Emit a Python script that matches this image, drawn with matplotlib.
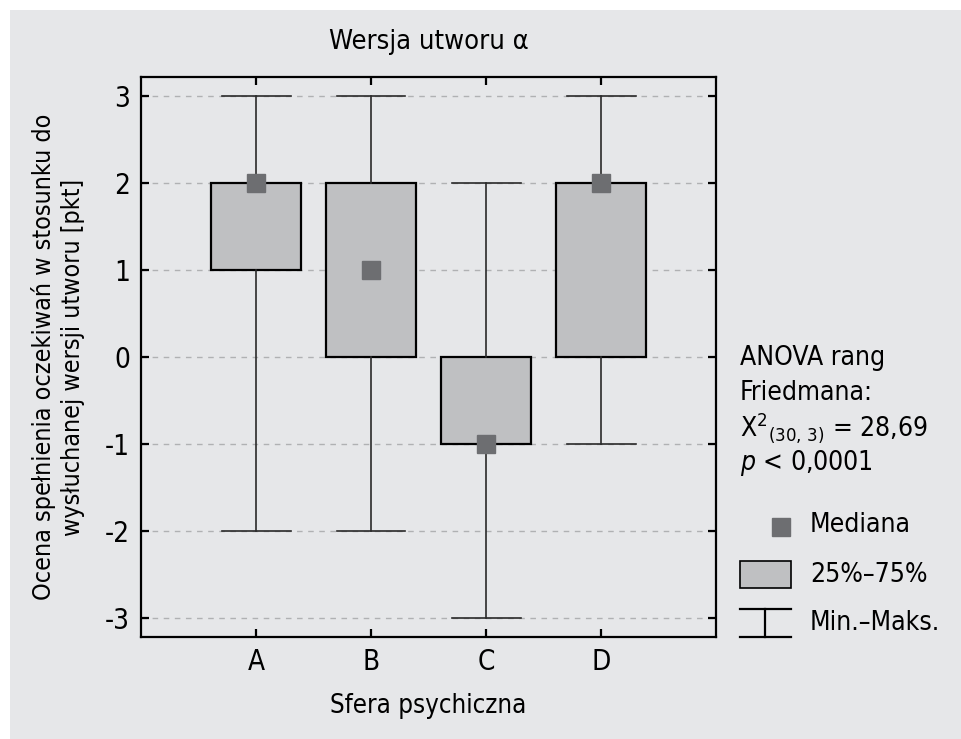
import matplotlib
matplotlib.use("Agg")
import matplotlib.pyplot as plt
from matplotlib.patches import Rectangle
from matplotlib.lines import Line2D

# Data
categories = ["A", "B", "C", "D"]
mins = [-2, -2, -3, -1]
q1s = [1, 0, -1, 0]
medians = [2, 1, -1, 2]
q3s = [2, 2, 0, 2]
maxs = [3, 3, 2, 3]
yticks = [3, 2, 1, 0, -1, -2, -3]

plt.rcParams['font.family'] = ["DejaVu Sans"]
plt.rcParams['font.stretch'] = 'condensed'
plt.rcParams['axes.unicode_minus'] = False
plt.rcParams['mathtext.fontset'] = 'custom'
plt.rcParams['mathtext.rm'] = 'DejaVu Sans:stretch=condensed'
plt.rcParams['mathtext.it'] = 'DejaVu Sans:italic:stretch=condensed'

BG = "#e6e7e9"
BOXC = "#bfc0c2"
MEDC = "#6d6e71"
FS = 20
LFS = 18

fig = plt.figure(figsize=(9.62, 7.39), dpi=100, facecolor="white")
fig.patches.append(Rectangle((10 / 962, 0), 1, 1 - 10 / 739, transform=fig.transFigure,
                             facecolor=BG, edgecolor="none", zorder=-10))

ax = fig.add_axes([141 / 962, 102 / 739, 575 / 962, 560 / 739])
ax.set_facecolor(BG)

pos = list(range(1, len(categories) + 1))
stats = []
for i in range(len(categories)):
    stats.append(dict(med=medians[i], q1=q1s[i], q3=q3s[i], whislo=mins[i], whishi=maxs[i], fliers=[]))

ax.bxp(stats, positions=pos, widths=0.79, patch_artist=True, showfliers=False,
       boxprops=dict(facecolor=BOXC, edgecolor="black", linewidth=1.6),
       whiskerprops=dict(color="#2a2a2a", linewidth=1.2),
       capprops=dict(color="#2a2a2a", linewidth=1.2),
       medianprops=dict(visible=False), capwidths=0.6, zorder=3)
ax.plot(pos, medians, "s", ms=13, color=MEDC, zorder=5)

ax.set_xlim(0, 5)
ax.set_ylim(-3.22, 3.22)
ax.set_xticks(pos)
ax.set_xticklabels(categories)
ax.set_yticks(yticks)
ax.set_yticklabels([str(v) for v in yticks])
ax.grid(axis="y", color="#b0b1b3", linestyle=(0, (4, 4)), linewidth=1, zorder=0)
ax.set_axisbelow(True)
for s in ax.spines.values():
    s.set_linewidth(1.6)
ax.tick_params(direction="in", length=6, width=1.6, labelsize=FS, top=True, right=True, pad=8)

ax.set_title("Wersja utworu α", fontsize=LFS + 1.5, pad=20)
ax.set_xlabel("Sfera psychiczna", fontsize=LFS + 0.5, labelpad=12)
ax.set_ylabel("Ocena spełnienia oczekiwań w stosunku do\nwysłuchanej wersji utworu [pkt]",
              fontsize=LFS, labelpad=14, linespacing=1.3)

# statistics text
SFS = 19
tx = 740 / 962
fig.text(tx, 1 - 358 / 739, "ANOVA rang", fontsize=SFS, va="center")
fig.text(tx, 1 - 393 / 739, "Friedmana:", fontsize=SFS, va="center")
fig.text(tx, 1 - 428 / 739, "Χ$^{2}$$_{(30,\\,3)}$ = 28,69", fontsize=SFS, va="center")
fig.text(tx, 1 - 463 / 739, "$p$ < 0,0001", fontsize=SFS, va="center")

# legend drawn in figure pixel coords
def fx(px):
    return px / 962

def fy(py):
    return 1 - py / 739

fig.add_artist(Line2D([fx(781)], [fy(527)], marker="s", ms=13, color=MEDC, transform=fig.transFigure))
fig.patches.append(Rectangle((fx(740), fy(588)), fx(791) - fx(740), fy(561) - fy(588),
                             transform=fig.transFigure, facecolor=BOXC, edgecolor="black", linewidth=1.2))
fig.add_artist(Line2D([fx(740), fx(791)], [fy(609), fy(609)], color="black", lw=1.6, transform=fig.transFigure))
fig.add_artist(Line2D([fx(740), fx(791)], [fy(637), fy(637)], color="black", lw=1.6, transform=fig.transFigure))
fig.add_artist(Line2D([fx(765.5), fx(765.5)], [fy(609), fy(637)], color="black", lw=1.6, transform=fig.transFigure))
lx = fx(810)
fig.text(lx, fy(525), "Mediana", fontsize=SFS, va="center")
fig.text(lx, fy(575), "25%–75%", fontsize=SFS, va="center")
fig.text(lx, fy(623), "Min.–Maks.", fontsize=SFS, va="center")

fig.savefig("out.png", dpi=100, facecolor=fig.get_facecolor())
